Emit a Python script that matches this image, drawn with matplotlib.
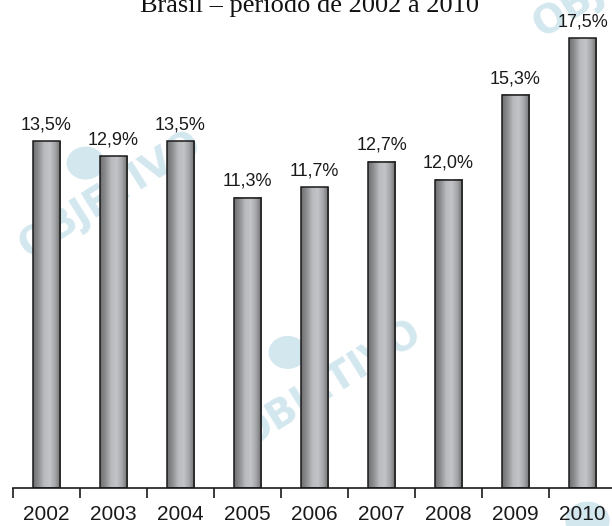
import numpy as np
import matplotlib
matplotlib.use('Agg')
import matplotlib.pyplot as plt
from matplotlib.colors import LinearSegmentedColormap

anos = ['2002', '2003', '2004', '2005', '2006', '2007', '2008', '2009', '2010']
taxas = [13.5, 12.9, 13.5, 11.3, 11.7, 12.7, 12.0, 15.3, 17.5]
rotulos = ['13,5%', '12,9%', '13,5%', '11,3%', '11,7%', '12,7%', '12,0%', '15,3%', '17,5%']
titulo = 'Brasil \u2013 período de 2002 a 2010'

W, H = 612, 526
fig = plt.figure(figsize=(W / 100, H / 100), dpi=100)
fig.patch.set_facecolor('white')

# marca d'agua (fica atras de tudo)
wm_color = '#d3e7ef'
for (x, y) in [(0.18, 0.63), (0.54, 0.27), (1.02, 1.05)]:
    fig.text(x, y, 'OBJETIVO', rotation=32, color=wm_color, fontsize=28,
             fontweight='bold', family='DejaVu Sans', ha='center', va='center',
             zorder=-5)
for (x, y, r) in [(0.14, 0.69, 0.03), (0.47, 0.33, 0.03), (0.96, 0.01, 0.035)]:
    fig.patches.append(plt.Circle((x, y), r, transform=fig.transFigure,
                                  color=wm_color, zorder=-5))

# titulo (cortado no topo, como no original)
fig.text(0.505, 1 - 12 / H, titulo, ha='center', va='baseline',
         fontsize=19, family='Liberation Serif', color='#111111')

ax = fig.add_axes([13 / W, 38 / H, 599 / W, 488 / H])
ax.patch.set_alpha(0)
x = np.arange(len(anos))
larg = 0.41
bars = ax.bar(x, taxas, width=larg, facecolor='none', edgecolor='#1a1a1a',
              linewidth=1.1, zorder=3)

cmap = LinearSegmentedColormap.from_list('cil', ['#6f6f70', '#8e8f91', '#b9babd',
                                                 '#c3c4c7', '#a4a5a8', '#6a6a6b'])
grad = np.linspace(0, 1, 128).reshape(1, -1)
for xi, v in zip(x, taxas):
    ax.imshow(grad, extent=[xi - larg / 2, xi + larg / 2, 0, v], aspect='auto',
              cmap=cmap, zorder=2, interpolation='bilinear')

for xi, v, t in zip(x, taxas, rotulos):
    ax.annotate(t, (xi, v), xytext=(0, 5.5), textcoords='offset points',
                ha='center', va='bottom', fontsize=13,
                family='Liberation Sans', color='#1a1a1a')

ax.set_xlim(-0.5, 8.44)
ax.set_ylim(0, 488 / 25.7)
for s in ['top', 'right', 'left']:
    ax.spines[s].set_visible(False)
ax.spines['bottom'].set_linewidth(1.2)
ax.spines['bottom'].set_color('#1a1a1a')
ax.set_yticks([])
ax.set_xticks(x)
ax.set_xticklabels(anos, fontsize=15, family='Liberation Sans', color='#1a1a1a')
ax.tick_params(axis='x', which='major', length=0, pad=12)
ax.set_xticks(np.arange(-0.5, 8.5, 1), minor=True)
ax.tick_params(axis='x', which='minor', length=7.5, width=1.2, color='#1a1a1a',
               direction='out')

plt.savefig('out.png', dpi=100)
